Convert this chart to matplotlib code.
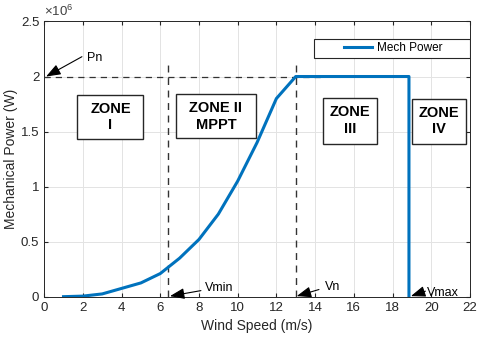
import numpy as np
import matplotlib
matplotlib.use("Agg")
import matplotlib.pyplot as plt
from matplotlib.patches import Rectangle
from matplotlib.ticker import FuncFormatter

plt.rcParams['font.family'] = ['Liberation Sans', 'DejaVu Sans']
plt.rcParams['mathtext.fontset'] = 'custom'
plt.rcParams['mathtext.rm'] = 'Liberation Sans'

## Mechanical power curve (W) vs wind speed (m/s)
wind = [1, 2, 3, 4, 5, 6, 7, 8, 9, 10, 11, 12, 13, 18.85, 18.85]
power = [0.0, 0.005e6, 0.025e6, 0.075e6, 0.125e6, 0.21e6, 0.35e6, 0.52e6,
         0.75e6, 1.05e6, 1.4e6, 1.8e6, 2.0e6, 2.0e6, 0.0]

v_min = 6.4
v_n = 13.0
v_max = 18.85
p_n = 2.0e6

zone_labels = ["ZONE\nI", "ZONE II\nMPPT", "ZONE\nIII", "ZONE\nIV"]
## box extents (x0, x1, y0, y1) in data units
zone_boxes = [(1.72, 5.13, 1.43e6, 1.835e6),
              (6.82, 10.93, 1.44e6, 1.84e6),
              (14.4, 17.2, 1.39e6, 1.805e6),
              (19.0, 21.8, 1.39e6, 1.80e6)]

f, ax = plt.subplots(figsize=(4.8, 3.41), dpi=100)
f.subplots_adjust(left=0.092, right=0.979, top=0.937, bottom=0.13)

ax.plot(wind, power, color='#0072BD', linewidth=2.2, label='Mech Power', zorder=3)

## dashed reference lines
ax.plot([0, 14.3], [p_n, p_n], '--', color='#333333', linewidth=0.9, dashes=(5, 4), zorder=2)
ax.plot([v_min, v_min], [0, 2.15e6], '--', color='#333333', linewidth=1.0, dashes=(5, 4), zorder=2)
ax.plot([v_n, v_n], [0, 2.15e6], '--', color='#333333', linewidth=1.0, dashes=(5, 4), zorder=2)

## arrows
arr = dict(arrowstyle='-|>,head_length=0.8,head_width=0.3', color='black', lw=0.8,
           mutation_scale=11, shrinkA=0, shrinkB=0)
ax.annotate('', xy=(0.1, p_n), xytext=(1.95, 2.18e6), arrowprops=arr, zorder=5)
ax.text(2.2, 2.17e6, 'Pn', fontsize=9, va='center', ha='left')
ax.annotate('', xy=(6.5, 0.005e6), xytext=(8.1, 0.055e6), arrowprops=arr, zorder=5)
ax.text(8.3, 0.075e6, 'Vmin', fontsize=9, va='center', ha='left')
ax.annotate('', xy=(13.05, 0.005e6), xytext=(14.2, 0.065e6), arrowprops=arr, zorder=5)
ax.text(14.5, 0.085e6, 'Vn', fontsize=9, va='center', ha='left')
ax.annotate('', xy=(18.95, 0.005e6), xytext=(19.7, 0.05e6), arrowprops=arr, zorder=5)
ax.text(19.8, 0.03e6, 'Vmax', fontsize=9, va='center', ha='left')

## zone boxes
for lbl, (x0, x1, y0, y1) in zip(zone_labels, zone_boxes):
    ax.add_patch(Rectangle((x0, y0), x1 - x0, y1 - y0, facecolor='white',
                           edgecolor='#262626', linewidth=1.0, zorder=4))
    ax.text((x0 + x1) / 2, (y0 + y1) / 2, lbl, fontsize=10.5, fontweight='bold',
            ha='center', va='center', linespacing=1.25, zorder=5)

ax.set_xlim(0, 22)
ax.set_ylim(0, 2.5e6)
ax.set_xticks(np.arange(0, 23, 2))
ax.set_yticks(np.arange(0, 2.6e6, 0.5e6))
ax.yaxis.set_major_formatter(FuncFormatter(lambda v, p: '%g' % (v / 1e6)))
ax.text(0.0, 1.008, r'$\times10^{6}$', transform=ax.transAxes, fontsize=9.5,
        color='#404040', ha='left', va='bottom')
ax.grid(True, color='#e3e3e3', linewidth=0.7)
ax.set_axisbelow(True)
ax.tick_params(direction='in', top=True, right=True, labelsize=9.5, colors='#262626', length=3)
for sp in ax.spines.values():
    sp.set_color('#262626')
    sp.set_linewidth(0.7)
ax.set_xlabel('Wind Speed (m/s)', fontsize=10, color='#262626')
ax.set_ylabel('Mechanical Power (W)', fontsize=10, color='#262626', labelpad=2)

## legend with a wide frame like the reference
ax.add_patch(Rectangle((0.634, 0.868), 0.366, 0.069, transform=ax.transAxes,
                       facecolor='white', edgecolor='#262626', linewidth=0.8, zorder=4))
leg = ax.legend(loc='center', bbox_to_anchor=(0.82, 0.9025), fontsize=8.5, frameon=False,
                handlelength=2.4, handletextpad=0.4)
leg.set_zorder(6)

f.savefig('out.png')
